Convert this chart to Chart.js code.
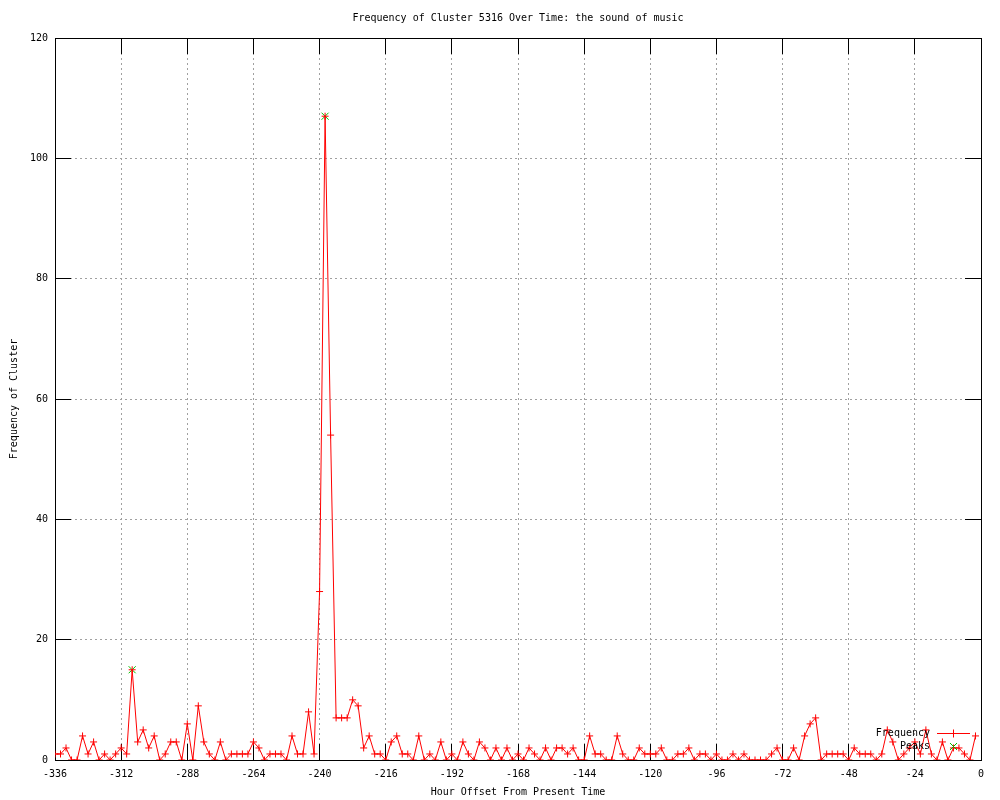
<!DOCTYPE html>
<html>
<head>
<meta charset="utf-8">
<script src="https://cdn.jsdelivr.net/npm/chart.js@4/dist/chart.umd.min.js"></script>
<style>
  html, body { margin: 0; padding: 0; background: #ffffff; }
  canvas { display: block; }
</style>
</head>
<body>
<canvas id="c" width="1000" height="800"></canvas>
<script>
// ---- data ----
const chartTitle = 'Frequency of Cluster 5316 Over Time: the sound of music';
const xAxisTitle = 'Hour Offset From Present Time';
const yAxisTitle = 'Frequency of Cluster';

const hours = [
  -336,-334,-332,-330,-328,-326,-324,-322,-320,-318,-316,-314,
  -312,-310,-308,-306,-304,-302,-300,-298,-296,-294,-292,-290,
  -288,-286,-284,-282,-280,-278,-276,-274,-272,-270,-268,-266,
  -264,-262,-260,-258,-256,-254,-252,-250,-248,-246,-244,-242,
  -240,-238,-236,-234,-232,-230,-228,-226,-224,-222,-220,-218,
  -216,-214,-212,-210,-208,-206,-204,-202,-200,-198,-196,-194,
  -192,-190,-188,-186,-184,-182,-180,-178,-176,-174,-172,-170,
  -168,-166,-164,-162,-160,-158,-156,-154,-152,-150,-148,-146,
  -144,-142,-140,-138,-136,-134,-132,-130,-128,-126,-124,-122,
  -120,-118,-116,-114,-112,-110,-108,-106,-104,-102,-100,-98,
  -96,-94,-92,-90,-88,-86,-84,-82,-80,-78,-76,-74,
  -72,-70,-68,-66,-64,-62,-60,-58,-56,-54,-52,-50,
  -48,-46,-44,-42,-40,-38,-36,-34,-32,-30,-28,-26,
  -24,-22,-20,-18,-16,-14,-12,-10,-8,-6,-4,-2
];
const frequency = [
  1,1,2,0,0,4,1,3,0,1,0,1,
  2,1,15,3,5,2,4,0,1,3,3,0,
  6,0,9,3,1,0,3,0,1,1,1,1,
  3,2,0,1,1,1,0,4,1,1,8,1,
  28,107,54,7,7,7,10,9,2,4,1,1,
  0,3,4,1,1,0,4,0,1,0,3,0,
  1,0,3,1,0,3,2,0,2,0,2,0,
  1,0,2,1,0,2,0,2,2,1,2,0,
  0,4,1,1,0,0,4,1,0,0,2,1,
  1,1,2,0,0,1,1,2,0,1,1,0,
  1,0,0,1,0,1,0,0,0,0,1,2,
  0,0,2,0,4,6,7,0,1,1,1,1,
  0,2,1,1,1,0,1,5,3,0,1,2,
  3,1,5,1,0,3,0,2,2,1,0,4
];
const peakHours = [-308, -238];
const peakValues = [15, 107];
const xTicks = { min: -336, max: 0, step: 24 };
const yTicks = { min: 0, max: 120, step: 20 };
const seriesNames = ['Frequency', 'Peaks'];

// ---- styles ----
const FONT = 'DejaVu Sans Mono';
const RED = '#ff0000';
const GREEN = '#00c000';
const TICK_LEN = 16;

const freqPoints = hours.map((h, i) => ({ x: h, y: frequency[i] }));
const peakPoints = peakHours.map((h, i) => ({ x: h, y: peakValues[i] }));

// same pixel snapping Chart.js uses for its grid lines
const snap = p => Math.round(p - 0.5) + 0.5;

const framePlugin = {
  id: 'frame',
  beforeDatasetsDraw(chart) {
    const { ctx, chartArea: a, scales: { x, y } } = chart;
    ctx.save();
    ctx.setLineDash([]);
    ctx.strokeStyle = '#000000';
    ctx.lineWidth = 1;
    ctx.beginPath();
    x.ticks.forEach(t => {
      const px = snap(x.getPixelForValue(t.value));
      ctx.moveTo(px, a.bottom); ctx.lineTo(px, a.bottom - TICK_LEN);
      ctx.moveTo(px, a.top); ctx.lineTo(px, a.top + TICK_LEN);
    });
    y.ticks.forEach(t => {
      const py = snap(y.getPixelForValue(t.value));
      ctx.moveTo(a.left, py); ctx.lineTo(a.left + TICK_LEN, py);
      ctx.moveTo(a.right, py); ctx.lineTo(a.right - TICK_LEN, py);
    });
    ctx.stroke();
    const l = snap(a.left), r = snap(a.right), tp = snap(a.top), b = snap(a.bottom);
    ctx.strokeRect(l, tp, r - l, b - tp);
    // title, centred over the plot area
    ctx.font = '10px "' + FONT + '"';
    ctx.fillStyle = '#000000';
    ctx.textAlign = 'center';
    ctx.textBaseline = 'middle';
    ctx.fillText(chartTitle, (a.left + a.right) / 2, 18);
    ctx.restore();
  }
};

const keyPlugin = {
  id: 'key',
  afterDatasetsDraw(chart) {
    const { ctx, chartArea: a } = chart;
    const textRight = a.right - 51;
    const sx0 = a.right - 44, sx1 = a.right - 11, sxm = a.right - 28;
    const y1 = a.bottom - 27, y2 = a.bottom - 14;
    ctx.save();
    ctx.setLineDash([]);
    ctx.font = '10px "' + FONT + '"';
    ctx.fillStyle = '#000000';
    ctx.textAlign = 'right';
    ctx.textBaseline = 'middle';
    ctx.fillText(seriesNames[0], textRight, y1);
    ctx.fillText(seriesNames[1], textRight, y2);
    ctx.lineWidth = 1;
    ctx.strokeStyle = RED;
    ctx.beginPath();
    ctx.moveTo(sx0, y1 + 0.5); ctx.lineTo(sx1, y1 + 0.5);
    ctx.moveTo(sxm + 0.5, y1 - 3.5); ctx.lineTo(sxm + 0.5, y1 + 4.5);
    ctx.stroke();
    ctx.strokeStyle = GREEN;
    ctx.beginPath();
    ctx.moveTo(sxm - 3, y2 - 3); ctx.lineTo(sxm + 4, y2 + 4);
    ctx.moveTo(sxm - 3, y2 + 4); ctx.lineTo(sxm + 4, y2 - 3);
    ctx.stroke();
    ctx.restore();
  }
};

new Chart(document.getElementById('c'), {
  type: 'line',
  data: {
    datasets: [
      {
        label: seriesNames[0],
        data: freqPoints,
        borderColor: RED,
        backgroundColor: RED,
        borderWidth: 1,
        pointStyle: 'cross',
        pointRadius: 3.5,
        pointBorderWidth: 1,
        pointBorderColor: RED,
        tension: 0,
        fill: false
      },
      {
        label: seriesNames[1],
        data: peakPoints,
        showLine: false,
        borderColor: GREEN,
        backgroundColor: GREEN,
        pointStyle: 'crossRot',
        pointRadius: 5,
        pointBorderWidth: 1,
        pointBorderColor: GREEN
      }
    ]
  },
  options: {
    responsive: false,
    devicePixelRatio: 1,
    animation: false,
    layout: { padding: { left: 0, right: 19, top: 38, bottom: 0 } },
    plugins: {
      legend: { display: false },
      tooltip: { enabled: false },
      title: { display: false }
    },
    scales: {
      x: {
        type: 'linear',
        min: xTicks.min,
        max: xTicks.max,
        afterFit: s => { s.height = 40; },
        afterBuildTicks: s => {
          const t = [];
          for (let v = xTicks.min; v <= xTicks.max; v += xTicks.step) t.push({ value: v });
          s.ticks = t;
        },
        ticks: {
          color: '#000000',
          font: { family: FONT, size: 10 },
          padding: 8,
          autoSkip: false,
          maxRotation: 0,
          minRotation: 0
        },
        grid: { color: '#a0a0a0', lineWidth: 1, drawTicks: false },
        border: { display: false, dash: [2, 3] },
        title: {
          display: true,
          text: xAxisTitle,
          color: '#000000',
          font: { family: FONT, size: 10, lineHeight: 1.2 },
          padding: { top: 0, bottom: 2 }
        }
      },
      y: {
        type: 'linear',
        min: yTicks.min,
        max: yTicks.max,
        afterFit: s => { s.width = 55; },
        afterBuildTicks: s => {
          const t = [];
          for (let v = yTicks.min; v <= yTicks.max; v += yTicks.step) t.push({ value: v });
          s.ticks = t;
        },
        ticks: {
          color: '#000000',
          font: { family: FONT, size: 10 },
          padding: 7
        },
        grid: { color: '#a0a0a0', lineWidth: 1, drawTicks: false },
        border: { display: false, dash: [2, 3] },
        title: {
          display: true,
          text: yAxisTitle,
          color: '#000000',
          font: { family: FONT, size: 10, lineHeight: 1.2 },
          padding: { top: 8, bottom: 0 }
        }
      }
    }
  },
  plugins: [framePlugin, keyPlugin]
});
</script>
</body>
</html>
